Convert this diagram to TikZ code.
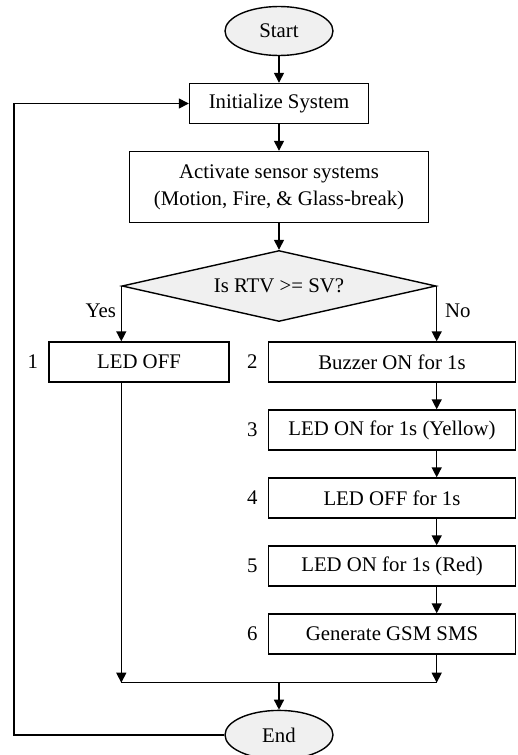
\documentclass[tikz,border=0pt]{standalone}
\usepackage{fontspec}
\setmainfont{Liberation Serif}
\usetikzlibrary{shapes.geometric, arrows.meta, positioning}

\begin{document}
\begin{tikzpicture}[
    x=0.5pt, y=-0.5pt,
    node distance=13.3pt and 4pt,
    font=\fontsize{10.4}{13.5}\selectfont,
    box/.style={rectangle, draw=black, fill=white, align=center,
                line width=0.7pt, minimum height=20pt, inner sep=2pt},
    term/.style={ellipse, draw=black, fill=gray!12, line width=0.7pt,
                 minimum width=54pt, minimum height=24.5pt, inner sep=0pt},
    decision/.style={diamond, aspect=4.42, draw=black, fill=gray!12, line width=0.7pt,
                     minimum width=157pt, minimum height=35.5pt, inner sep=0pt},
    arrow/.style={-{Triangle[length=5pt,width=5pt]}, line width=0.7pt},
    num/.style={inner sep=0pt}
]
\useasboundingbox (0,0) rectangle (518,755);

% main line
\node[term] (start) at (279,31) {Start};
\node[box, minimum width=89.5pt, below=13.3pt of start] (init) {Initialize System};
\node[box, minimum width=149.5pt, minimum height=35.5pt, below=13.3pt of init] (activate)
    {Activate sensor systems\\(Motion, Fire, \& Glass-break)};
\node[decision, below=13.3pt of activate] (check) {Is RTV >= SV?};
\draw[arrow] (start) -- (init);
\draw[arrow] (init) -- (activate);
\draw[arrow] (activate) -- (check);

% Yes branch
\node[box, minimum width=90pt] (ledoff) at (139,362) {LED OFF};
\node[num, left=5pt of ledoff] (n1) {1};
\node[anchor=east, inner sep=0pt] (yes) at ([xshift=-2.5pt, yshift=-12.5pt]check.west) {Yes};
\draw[arrow] (check.west) -- (check.west |- ledoff.north);

% No branch
\node[box, minimum width=123.5pt] (buzz) at (392,362) {Buzzer ON for 1s};
\node[box, minimum width=123.5pt, below=of buzz] (yellow) {LED ON for 1s (Yellow)};
\node[box, minimum width=123.5pt, below=of yellow] (pause) {LED OFF for 1s};
\node[box, minimum width=123.5pt, below=of pause] (red) {LED ON for 1s (Red)};
\node[box, minimum width=123.5pt, below=of red] (sms) {Generate GSM SMS};
\node[num, left=5pt of buzz] (n2) {2};
\node[num, left=5pt of yellow] (n3) {3};
\node[num, left=5pt of pause] (n4) {4};
\node[num, left=5pt of red] (n5) {5};
\node[num, left=5pt of sms] (n6) {6};
\node[anchor=west, inner sep=0pt] (no) at ([xshift=4pt, yshift=-12.5pt]check.east) {No};
\draw[arrow] (check.east) -- (check.east |- buzz.north);
\draw[arrow] (buzz.south -| check.east) -- (yellow.north -| check.east);
\draw[arrow] (yellow.south -| check.east) -- (pause.north -| check.east);
\draw[arrow] (pause.south -| check.east) -- (red.north -| check.east);
\draw[arrow] (red.south -| check.east) -- (sms.north -| check.east);

% merge and end
\coordinate[below=14pt of sms.south -| check.east] (mergeR);
\coordinate (mergeL) at (check.west |- mergeR);
\node[term, below=13.5pt of check.south |- mergeR] (end) {End};
\draw[arrow] (ledoff.south -| check.west) -- (mergeL);
\draw[arrow] (sms.south -| check.east) -- (mergeR);
\draw[line width=0.7pt] (mergeL) -- (mergeR);
\draw[arrow] (end.north |- mergeR) -- (end);

% loop back
\coordinate (back) at (14,733);
\draw[arrow] (end.west) -- (back |- end.west) |- (init.west);

\end{tikzpicture}
\end{document}
